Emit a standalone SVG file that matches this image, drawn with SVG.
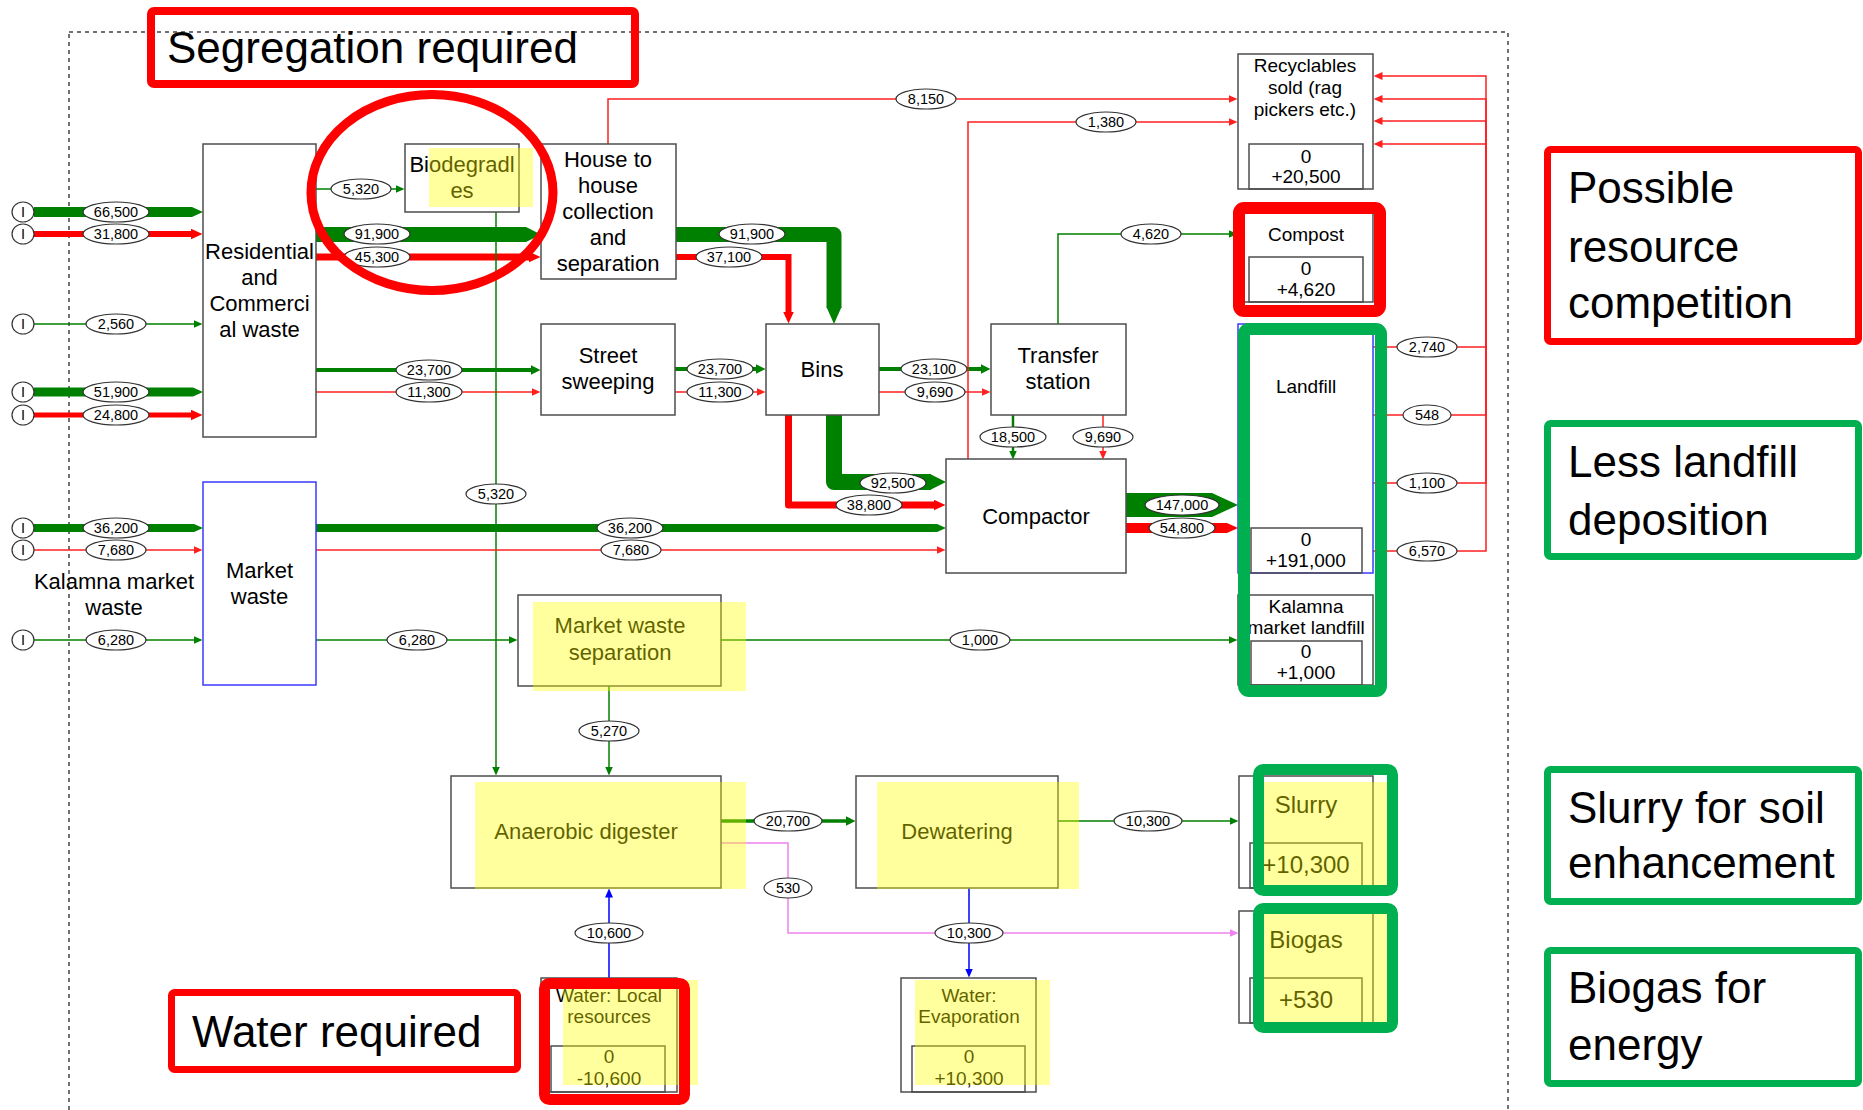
<svg xmlns="http://www.w3.org/2000/svg" width="1863" height="1110" viewBox="0 0 1863 1110">
<style>
text{font-family:"Liberation Sans",Arial,sans-serif;fill:#000}
.c{text-anchor:middle}
.t22{font-size:22px}
.t19{font-size:19px}
.t24{font-size:24px}
.ann{font-size:44px}
.box{fill:#fff;stroke:#4d4d4d;stroke-width:1.5}
.bbox{fill:#fff;stroke:#3a3aff;stroke-width:1.5}
.ibox{fill:none;stroke:#4d4d4d;stroke-width:1.5}
.yl{fill:#ffff00;fill-opacity:0.38}
.lbl ellipse{fill:#fff;stroke:#333;stroke-width:1.2}
.lbl text{font-size:14.5px;text-anchor:middle}
.g1{fill:none;stroke:#008000;stroke-width:1.5}
.r1{fill:none;stroke:#ff2020;stroke-width:1.5}
.b1{fill:none;stroke:#0000ff;stroke-width:1.5}
.p1{fill:none;stroke:#ee82ee;stroke-width:1.5}
.gT{fill:none;stroke:#008000}
.rT{fill:none;stroke:#ff0000}
.gP{fill:#008000}
.rP{fill:#ff0000}
.hlR{fill:none;stroke:#ff0000}
.hlG{fill:none;stroke:#00b050}
</style>
<defs>
<marker id="aG" markerUnits="userSpaceOnUse" markerWidth="10" markerHeight="10" refX="0.5" refY="4" orient="auto"><path d="M0,0 L9,4 L0,8 z" fill="#008000"/></marker>
<marker id="aR" markerUnits="userSpaceOnUse" markerWidth="10" markerHeight="10" refX="0.5" refY="4" orient="auto"><path d="M0,0 L9,4 L0,8 z" fill="#ff2020"/></marker>
<marker id="aB" markerUnits="userSpaceOnUse" markerWidth="10" markerHeight="10" refX="0.5" refY="4" orient="auto"><path d="M0,0 L9,4 L0,8 z" fill="#0000ff"/></marker>
<marker id="aP" markerUnits="userSpaceOnUse" markerWidth="10" markerHeight="10" refX="0.5" refY="4" orient="auto"><path d="M0,0 L9,4 L0,8 z" fill="#ee82ee"/></marker>
<marker id="aGb" markerUnits="userSpaceOnUse" markerWidth="12" markerHeight="12" refX="0.5" refY="5" orient="auto"><path d="M0,0 L10,5 L0,10 z" fill="#008000"/></marker>
<marker id="aRb" markerUnits="userSpaceOnUse" markerWidth="14" markerHeight="12" refX="0.5" refY="5.5" orient="auto"><path d="M0,0 L12,5.5 L0,11 z" fill="#ff0000"/></marker>
</defs>
<rect width="1863" height="1110" fill="#fff"/>
<rect x="69" y="32" width="1439" height="1200" fill="none" stroke="#444" stroke-width="1.5" stroke-dasharray="4 4"/>

<g id="connectors">
<polygon class="gP" points="34,207 192,207 203,212 192,217 34,217"/>
<line class="rT" stroke-width="6" x1="34" y1="234" x2="191" y2="234" marker-end="url(#aRb)"/>
<line class="g1" x1="34" y1="324" x2="194" y2="324" marker-end="url(#aG)"/>
<polygon class="gP" points="34,387.5 193,387.5 203,392 193,396.5 34,396.5"/>
<line class="rT" stroke-width="5" x1="34" y1="415" x2="191" y2="415" marker-end="url(#aRb)"/>
<polygon class="gP" points="34,524 194,524 203,528 194,532 34,532"/>
<line class="r1" x1="34" y1="550" x2="194" y2="550" marker-end="url(#aR)"/>
<line class="g1" x1="34" y1="640" x2="194" y2="640" marker-end="url(#aG)"/>
<line class="g1" x1="316" y1="189" x2="396" y2="189" marker-end="url(#aG)"/>
<polygon class="gP" points="316,227 526,227 541,234.5 526,242 316,242"/>
<line class="rT" stroke-width="7" x1="316" y1="257" x2="529" y2="257" marker-end="url(#aRb)"/>
<line class="gT" stroke-width="4" x1="316" y1="370" x2="531" y2="370" marker-end="url(#aGb)"/>
<line class="r1" x1="316" y1="392" x2="532" y2="392" marker-end="url(#aR)"/>
<line class="g1" x1="496" y1="212" x2="496" y2="767" marker-end="url(#aG)"/>
<path class="r1" d="M608,144 V99 H1229" marker-end="url(#aR)"/>
<path class="gT" stroke-width="15" stroke-linejoin="round" d="M676,234.5 H834 V308"/>
<polygon class="gP" points="826.5,307 841.5,307 834,324"/>
<path class="rT" stroke-width="6" d="M676,257 H788.5 V312" marker-end="url(#aRb)"/>
<line class="gT" stroke-width="4" x1="675" y1="369" x2="756" y2="369" marker-end="url(#aGb)"/>
<line class="r1" x1="675" y1="392" x2="757" y2="392" marker-end="url(#aR)"/>
<line class="gT" stroke-width="4" x1="879" y1="369" x2="981" y2="369" marker-end="url(#aGb)"/>
<line class="r1" x1="879" y1="392" x2="982" y2="392" marker-end="url(#aR)"/>
<path class="gT" stroke-width="16" stroke-linejoin="round" d="M834,415 V482 H931"/>
<polygon class="gP" points="930,474 946,482 930,490"/>
<path class="rT" stroke-width="7" stroke-linejoin="round" d="M788.5,415 V505 H934" marker-end="url(#aRb)"/>
<polygon class="gP" points="316,524 937,524 946,528 937,532 316,532"/>
<line class="r1" x1="316" y1="550" x2="937" y2="550" marker-end="url(#aR)"/>
<line class="g1" x1="316" y1="640" x2="509" y2="640" marker-end="url(#aG)"/>
<path class="g1" d="M1058,324 V234 H1229" marker-end="url(#aG)"/>
<line class="gT" stroke-width="2.5" x1="1013" y1="415" x2="1013" y2="451" marker-end="url(#aG)"/>
<line class="r1" x1="1103" y1="415" x2="1103" y2="451" marker-end="url(#aR)"/>
<path class="r1" d="M968,460 V122 H1229" marker-end="url(#aR)"/>
<polygon class="gP" points="1126,493 1212,493 1238,505 1212,517 1126,517"/>
<polygon class="rP" points="1126,523 1227,523 1238,528 1227,533 1126,533"/>
<path class="r1" d="M1373,347 H1486 V76 H1382" marker-end="url(#aR)"/>
<path class="r1" d="M1373,415 H1486 V99 H1382" marker-end="url(#aR)"/>
<path class="r1" d="M1373,483 H1486 V121 H1382" marker-end="url(#aR)"/>
<path class="r1" d="M1373,551 H1486 V144 H1382" marker-end="url(#aR)"/>
<line class="g1" x1="721" y1="640" x2="1229" y2="640" marker-end="url(#aG)"/>
<line class="g1" x1="609" y1="686" x2="609" y2="767" marker-end="url(#aG)"/>
<line class="gT" stroke-width="3.5" x1="721" y1="821" x2="846" y2="821" marker-end="url(#aGb)"/>
<path class="p1" d="M721,843 H788 V933 H1230" marker-end="url(#aP)"/>
<line class="g1" x1="1058" y1="821" x2="1230" y2="821" marker-end="url(#aG)"/>
<line class="b1" x1="969" y1="888" x2="969" y2="969" marker-end="url(#aB)"/>
<line class="b1" x1="609" y1="978" x2="609" y2="897" marker-end="url(#aB)"/>

<g class="lbl">
<ellipse cx="23" cy="212" rx="11" ry="10"/><text x="23" y="217">I</text>
<ellipse cx="23" cy="234" rx="11" ry="10"/><text x="23" y="239">I</text>
<ellipse cx="23" cy="324" rx="11" ry="10"/><text x="23" y="329">I</text>
<ellipse cx="23" cy="392" rx="11" ry="10"/><text x="23" y="397">I</text>
<ellipse cx="23" cy="415" rx="11" ry="10"/><text x="23" y="420">I</text>
<ellipse cx="23" cy="528" rx="11" ry="10"/><text x="23" y="533">I</text>
<ellipse cx="23" cy="550" rx="11" ry="10"/><text x="23" y="555">I</text>
<ellipse cx="23" cy="640" rx="11" ry="10"/><text x="23" y="645">I</text>

<ellipse cx="116" cy="212" rx="33" ry="10"/><text x="116" y="217">66,500</text>
<ellipse cx="116" cy="234" rx="33" ry="10"/><text x="116" y="239">31,800</text>
<ellipse cx="116" cy="324" rx="30" ry="10"/><text x="116" y="329">2,560</text>
<ellipse cx="116" cy="392" rx="33" ry="10"/><text x="116" y="397">51,900</text>
<ellipse cx="116" cy="415" rx="33" ry="10"/><text x="116" y="420">24,800</text>
<ellipse cx="116" cy="528" rx="33" ry="10"/><text x="116" y="533">36,200</text>
<ellipse cx="116" cy="550" rx="30" ry="10"/><text x="116" y="555">7,680</text>
<ellipse cx="116" cy="640" rx="30" ry="10"/><text x="116" y="645">6,280</text>

<ellipse cx="361" cy="189" rx="30" ry="10"/><text x="361" y="194">5,320</text>
<ellipse cx="377" cy="234" rx="33" ry="10"/><text x="377" y="239">91,900</text>
<ellipse cx="377" cy="257" rx="33" ry="10"/><text x="377" y="262">45,300</text>
<ellipse cx="429" cy="370" rx="33" ry="10"/><text x="429" y="375">23,700</text>
<ellipse cx="429" cy="392" rx="33" ry="10"/><text x="429" y="397">11,300</text>
<ellipse cx="496" cy="494" rx="30" ry="10"/><text x="496" y="499">5,320</text>
<ellipse cx="926" cy="99" rx="30" ry="10"/><text x="926" y="104">8,150</text>
<ellipse cx="752" cy="234" rx="33" ry="10"/><text x="752" y="239">91,900</text>
<ellipse cx="729" cy="257" rx="33" ry="10"/><text x="729" y="262">37,100</text>
<ellipse cx="720" cy="369" rx="33" ry="10"/><text x="720" y="374">23,700</text>
<ellipse cx="720" cy="392" rx="33" ry="10"/><text x="720" y="397">11,300</text>
<ellipse cx="934" cy="369" rx="33" ry="10"/><text x="934" y="374">23,100</text>
<ellipse cx="935" cy="392" rx="30" ry="10"/><text x="935" y="397">9,690</text>
<ellipse cx="893" cy="483" rx="33" ry="10"/><text x="893" y="488">92,500</text>
<ellipse cx="869" cy="505" rx="33" ry="10"/><text x="869" y="510">38,800</text>
<ellipse cx="630" cy="528" rx="33" ry="10"/><text x="630" y="533">36,200</text>
<ellipse cx="631" cy="550" rx="30" ry="10"/><text x="631" y="555">7,680</text>
<ellipse cx="417" cy="640" rx="30" ry="10"/><text x="417" y="645">6,280</text>
<ellipse cx="1151" cy="234" rx="30" ry="10"/><text x="1151" y="239">4,620</text>
<ellipse cx="1013" cy="437" rx="33" ry="10"/><text x="1013" y="442">18,500</text>
<ellipse cx="1103" cy="437" rx="30" ry="10"/><text x="1103" y="442">9,690</text>
<ellipse cx="1106" cy="122" rx="30" ry="10"/><text x="1106" y="127">1,380</text>
<ellipse cx="1182" cy="505" rx="37" ry="10"/><text x="1182" y="510">147,000</text>
<ellipse cx="1182" cy="528" rx="33" ry="10"/><text x="1182" y="533">54,800</text>
<ellipse cx="1427" cy="347" rx="30" ry="10"/><text x="1427" y="352">2,740</text>
<ellipse cx="1427" cy="415" rx="24" ry="10"/><text x="1427" y="420">548</text>
<ellipse cx="1427" cy="483" rx="30" ry="10"/><text x="1427" y="488">1,100</text>
<ellipse cx="1427" cy="551" rx="30" ry="10"/><text x="1427" y="556">6,570</text>
<ellipse cx="980" cy="640" rx="30" ry="10"/><text x="980" y="645">1,000</text>
<ellipse cx="609" cy="731" rx="30" ry="10"/><text x="609" y="736">5,270</text>
<ellipse cx="788" cy="821" rx="34" ry="10"/><text x="788" y="826">20,700</text>
<ellipse cx="788" cy="888" rx="24" ry="10"/><text x="788" y="893">530</text>
<ellipse cx="1148" cy="821" rx="34" ry="10"/><text x="1148" y="826">10,300</text>
<ellipse cx="969" cy="933" rx="34" ry="10"/><text x="969" y="938">10,300</text>
<ellipse cx="609" cy="933" rx="34" ry="10"/><text x="609" y="938">10,600</text>
</g>
</g>

<g id="residential">
<rect class="box" x="203" y="144" width="113" height="293"/>
<text class="t22 c" x="259.5" y="259">Residential</text>
<text class="t22 c" x="259.5" y="285">and</text>
<text class="t22 c" x="259.5" y="311">Commerci</text>
<text class="t22 c" x="259.5" y="337">al waste</text>
</g>
<g id="biodegradables">
<rect class="box" x="405" y="144" width="114" height="68"/>
<text class="t22 c" x="462" y="172">Biodegradl</text>
<text class="t22 c" x="462" y="198">es</text>
<rect class="yl" x="429" y="148" width="104" height="59"/>
</g>
<g id="house">
<rect class="box" x="541" y="144" width="135" height="135"/>
<text class="t22 c" x="608" y="167">House to</text>
<text class="t22 c" x="608" y="193">house</text>
<text class="t22 c" x="608" y="219">collection</text>
<text class="t22 c" x="608" y="245">and</text>
<text class="t22 c" x="608" y="271">separation</text>
</g>
<g id="street">
<rect class="box" x="541" y="324" width="134" height="91"/>
<text class="t22 c" x="608" y="363">Street</text>
<text class="t22 c" x="608" y="389">sweeping</text>
</g>
<g id="bins">
<rect class="box" x="766" y="324" width="113" height="91"/>
<text class="t22 c" x="822" y="377">Bins</text>
</g>
<g id="transfer">
<rect class="box" x="991" y="324" width="135" height="91"/>
<text class="t22 c" x="1058" y="363">Transfer</text>
<text class="t22 c" x="1058" y="389">station</text>
</g>
<g id="compactor">
<rect class="box" x="946" y="459" width="180" height="114"/>
<text class="t22 c" x="1036" y="524">Compactor</text>
</g>
<g id="market">
<rect class="bbox" x="203" y="482" width="113" height="203"/>
<text class="t22 c" x="259.5" y="578">Market</text>
<text class="t22 c" x="259.5" y="604">waste</text>
</g>
<g id="kalamna-label">
<text class="t22 c" x="114" y="589">Kalamna market</text>
<text class="t22 c" x="114" y="615">waste</text>
</g>
<g id="mwsep">
<rect class="box" x="518" y="595" width="203" height="91"/>
<text class="t22 c" x="620" y="633">Market waste</text>
<text class="t22 c" x="620" y="660">separation</text>
<rect class="yl" x="533" y="602" width="213" height="89"/>
</g>
<g id="anaerobic">
<rect class="box" x="451" y="776" width="270" height="112"/>
<text class="t22 c" x="586" y="839">Anaerobic digester</text>
<rect class="yl" x="475" y="782" width="271" height="107"/>
</g>
<g id="dewatering">
<rect class="box" x="856" y="776" width="202" height="112"/>
<text class="t22 c" x="957" y="839">Dewatering</text>
<rect class="yl" x="877" y="782" width="202" height="107"/>
</g>
<g id="recyclables">
<rect class="box" x="1238" y="54" width="135" height="135"/>
<rect class="ibox" x="1249" y="144" width="114" height="45"/>
<text class="t19 c" x="1305" y="72">Recyclables</text>
<text class="t19 c" x="1305" y="94">sold (rag</text>
<text class="t19 c" x="1305" y="116">pickers etc.)</text>
<text class="t19 c" x="1306" y="163">0</text>
<text class="t19 c" x="1306" y="183">+20,500</text>
</g>
<g id="compost">
<rect class="box" x="1238" y="212" width="135" height="90"/>
<rect class="ibox" x="1249" y="257" width="114" height="45"/>
<text class="t19 c" x="1306" y="241">Compost</text>
<text class="t19 c" x="1306" y="275">0</text>
<text class="t19 c" x="1306" y="296">+4,620</text>
</g>
<g id="landfill">
<rect class="bbox" x="1238" y="324" width="135" height="249"/>
<rect class="ibox" x="1251" y="528" width="111" height="45"/>
<text class="t19 c" x="1306" y="393">Landfill</text>
<text class="t19 c" x="1306" y="546">0</text>
<text class="t19 c" x="1306" y="567">+191,000</text>
</g>
<g id="kalamna-landfill">
<rect class="box" x="1238" y="595" width="135" height="90"/>
<rect class="ibox" x="1251" y="641" width="111" height="44"/>
<text class="t19 c" x="1306" y="613">Kalamna</text>
<text class="t19 c" x="1306" y="634">market landfill</text>
<text class="t19 c" x="1306" y="658">0</text>
<text class="t19 c" x="1306" y="679">+1,000</text>
</g>
<g id="slurry">
<rect class="box" x="1239" y="776" width="134" height="112"/>
<rect class="ibox" x="1250" y="843" width="112" height="45"/>
<text class="t24 c" x="1306" y="813">Slurry</text>
<text class="t24 c" x="1306" y="873">+10,300</text>
<rect class="yl" x="1264" y="782" width="125" height="107"/>
</g>
<g id="biogas">
<rect class="box" x="1239" y="911" width="134" height="112"/>
<rect class="ibox" x="1250" y="978" width="112" height="45"/>
<text class="t24 c" x="1306" y="948">Biogas</text>
<text class="t24 c" x="1306" y="1008">+530</text>
<rect class="yl" x="1264" y="913" width="125" height="109"/>
</g>
<g id="water-local">
<rect class="box" x="541" y="978" width="136" height="114"/>
<rect class="ibox" x="551" y="1046" width="114" height="46"/>
<text class="t19 c" x="609" y="1002">Water: Local</text>
<text class="t19 c" x="609" y="1023">resources</text>
<text class="t19 c" x="609" y="1063">0</text>
<text class="t19 c" x="609" y="1085">-10,600</text>
<rect class="yl" x="563" y="980" width="135" height="105"/>
</g>
<g id="water-evap">
<rect class="box" x="901" y="978" width="135" height="114"/>
<rect class="ibox" x="912" y="1046" width="113" height="46"/>
<text class="t19 c" x="969" y="1002">Water:</text>
<text class="t19 c" x="969" y="1023">Evaporation</text>
<text class="t19 c" x="969" y="1063">0</text>
<text class="t19 c" x="969" y="1085">+10,300</text>
<rect class="yl" x="915" y="980" width="135" height="105"/>
</g>

<g id="highlights">
<ellipse class="hlR" stroke-width="9" cx="432" cy="192.5" rx="121" ry="98"/>
<rect class="hlR" stroke-width="12" x="1239" y="208" width="141" height="103" rx="5"/>
<rect class="hlG" stroke-width="12" x="1244" y="329" width="137" height="362" rx="5"/>
<rect class="hlG" stroke-width="11" x="1258.5" y="769.5" width="134" height="121" rx="5"/>
<rect class="hlG" stroke-width="11" x="1258.5" y="908.5" width="134" height="119" rx="5"/>
<rect class="hlR" stroke-width="11" x="544.5" y="983.5" width="140" height="116" rx="5"/>
</g>

<g id="ann-segregation">
<rect class="hlR" stroke-width="8" x="151" y="11" width="484" height="73" rx="3"/>
<text class="ann" x="167" y="63">Segregation required</text>
</g>
<g id="ann-water">
<rect class="hlR" stroke-width="7" x="171.5" y="992.5" width="346" height="77" rx="3"/>
<text class="ann" x="192" y="1047">Water required</text>
</g>
<g id="ann-competition">
<rect class="hlR" stroke-width="7" x="1547.5" y="149.5" width="311" height="192" rx="3"/>
<text class="ann" x="1568" y="203">Possible</text>
<text class="ann" x="1568" y="262">resource</text>
<text class="ann" x="1568" y="318">competition</text>
</g>
<g id="ann-landfill">
<rect class="hlG" stroke-width="7" x="1547.5" y="423.5" width="311" height="133" rx="3"/>
<text class="ann" x="1568" y="477">Less landfill</text>
<text class="ann" x="1568" y="535">deposition</text>
</g>
<g id="ann-slurry">
<rect class="hlG" stroke-width="7" x="1547.5" y="769.5" width="311" height="132" rx="3"/>
<text class="ann" x="1568" y="823">Slurry for soil</text>
<text class="ann" x="1568" y="878">enhancement</text>
</g>
<g id="ann-biogas">
<rect class="hlG" stroke-width="7" x="1547.5" y="950.5" width="311" height="133" rx="3"/>
<text class="ann" x="1568" y="1003">Biogas for</text>
<text class="ann" x="1568" y="1060">energy</text>
</g>
</svg>
